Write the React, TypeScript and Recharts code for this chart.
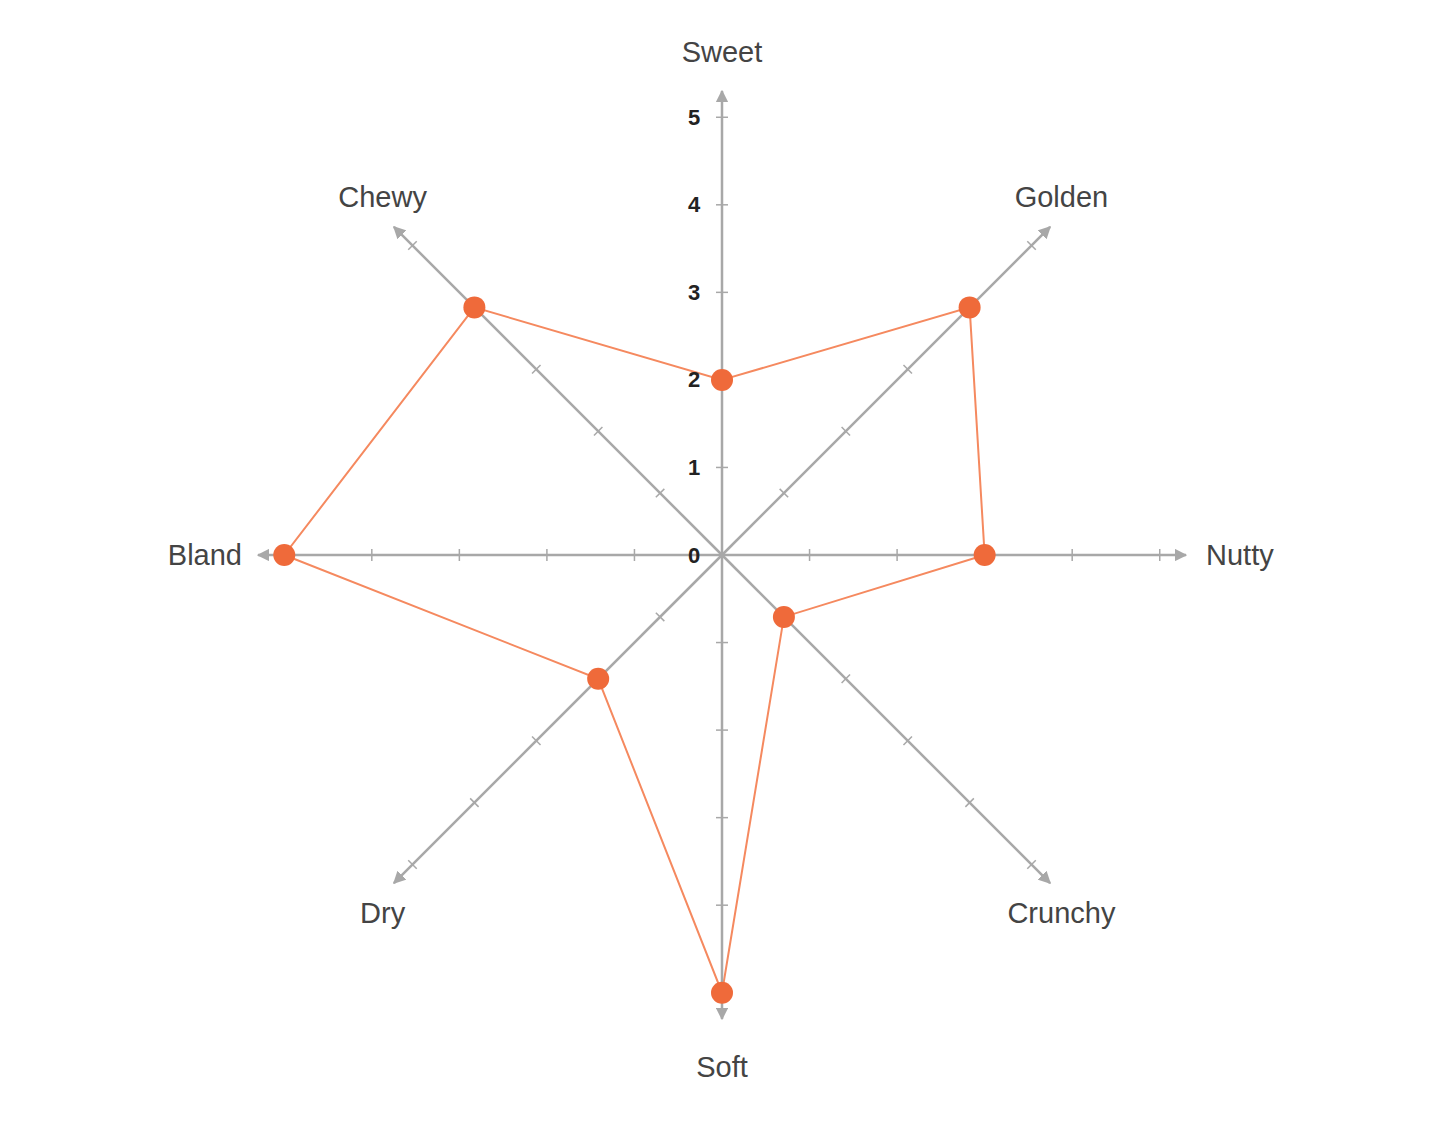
import React from 'react';
import { RadarChart, Radar, PolarAngleAxis, PolarRadiusAxis } from 'recharts';

// flavour profile, clockwise from the top
const attributes = ['Sweet', 'Golden', 'Nutty', 'Crunchy', 'Soft', 'Dry', 'Bland', 'Chewy'];
const scores = [2, 4, 3, 1, 5, 2, 5, 4];
const axisAngles = [90, 45, 0, -45, -90, -135, 180, 135];
// 5.3 is the end of each axis arrow, it gets no mark
const scaleTicks = [0, 1, 2, 3, 4, 5, 5.3];

const chartData = attributes.map((name, i) => ({ name, value: scores[i] }));

const AXIS_COLOR = '#a8a8a8';
const LINE_COLOR = '#f5895f';
const DOT_COLOR = '#ef6a3a';
const FONT = '"Liberation Sans", Arial, sans-serif';

const makeTick = (angle: number, showLabel: boolean) => (props: any) => {
  const { x, y, payload } = props;
  if (payload.value > 5) return <g />;
  const rad = (angle * Math.PI) / 180;
  const px = Math.sin(rad) * 6;
  const py = Math.cos(rad) * 6;
  return (
    <g>
      {payload.value > 0 && (
        <line x1={x - px} y1={y - py} x2={x + px} y2={y + py} stroke={AXIS_COLOR} strokeWidth={1.5} />
      )}
      {showLabel && (
        <text
          x={x - 28}
          y={y}
          textAnchor="middle"
          dominantBaseline="central"
          fontSize={22}
          fontWeight="bold"
          fill="#222"
          fontFamily={FONT}
        >
          {payload.value}
        </text>
      )}
    </g>
  );
};

const AttributeLabel = (props: any) => {
  const { cx, cy, payload } = props;
  const angle = payload.coordinate;
  const rad = (angle * Math.PI) / 180;
  const cos = Math.cos(rad);
  const sin = Math.sin(rad);
  let rx = 480;
  let ry = 506;
  let anchor: 'start' | 'middle' | 'end' = 'middle';
  if (Math.abs(sin) < 0.01) {
    rx = cos > 0 ? 484 : 480;
    anchor = cos > 0 ? 'start' : 'end';
  } else if (Math.abs(cos) < 0.01) {
    ry = sin > 0 ? 503 : 512;
  }
  return (
    <text
      x={cx + rx * cos}
      y={cy - ry * sin}
      textAnchor={anchor}
      dominantBaseline="central"
      fontSize={29}
      fill="#444"
      fontFamily={FONT}
    >
      {payload.value}
    </text>
  );
};

// Sweet axis (index 0) carries the scale labels, so draw it last
const axisOrder = [1, 2, 3, 4, 5, 6, 7, 0];

const App: React.FC = () => {
  return (
    <div style={{ width: 1424, height: 1100 }}>
      <RadarChart
        width={1424}
        height={1100}
        data={chartData}
        cx={714}
        cy={547}
        outerRadius={464}
        margin={{ top: 0, right: 0, bottom: 0, left: 0 }}
      >
        <defs>
          <marker id="axisArrow" viewBox="0 0 10 10" refX="9" refY="5" markerWidth="5" markerHeight="5" orient="auto">
            <path d="M0,0 L10,5 L0,10 z" fill={AXIS_COLOR} />
          </marker>
        </defs>
        <PolarAngleAxis dataKey="name" axisLine={false} tickLine={false} tick={<AttributeLabel />} />
        {axisOrder.map((i) => (
          <PolarRadiusAxis
            key={attributes[i]}
            radiusAxisId={i}
            angle={axisAngles[i]}
            type="number"
            domain={[0, 5.3]}
            ticks={scaleTicks as any}
            axisLine={{ stroke: AXIS_COLOR, strokeWidth: 2.5, markerEnd: 'url(#axisArrow)' }}
            tick={makeTick(axisAngles[i], i === 0)}
          />
        ))}
        {/* invisible series so every spoke axis is in use */}
        {axisAngles.slice(1).map((_, j) => (
          <Radar
            key={`hidden-${j}`}
            radiusAxisId={j + 1}
            dataKey="value"
            stroke="none"
            fill="none"
            fillOpacity={0}
            dot={false}
            legendType="none"
            isAnimationActive={false}
          />
        ))}
        <Radar
          radiusAxisId={0}
          dataKey="value"
          stroke={LINE_COLOR}
          strokeWidth={2}
          fill="none"
          fillOpacity={0}
          dot={{ r: 11, fill: DOT_COLOR, stroke: 'none', fillOpacity: 1 }}
          isAnimationActive={false}
        />
      </RadarChart>
    </div>
  );
};

export default App;
